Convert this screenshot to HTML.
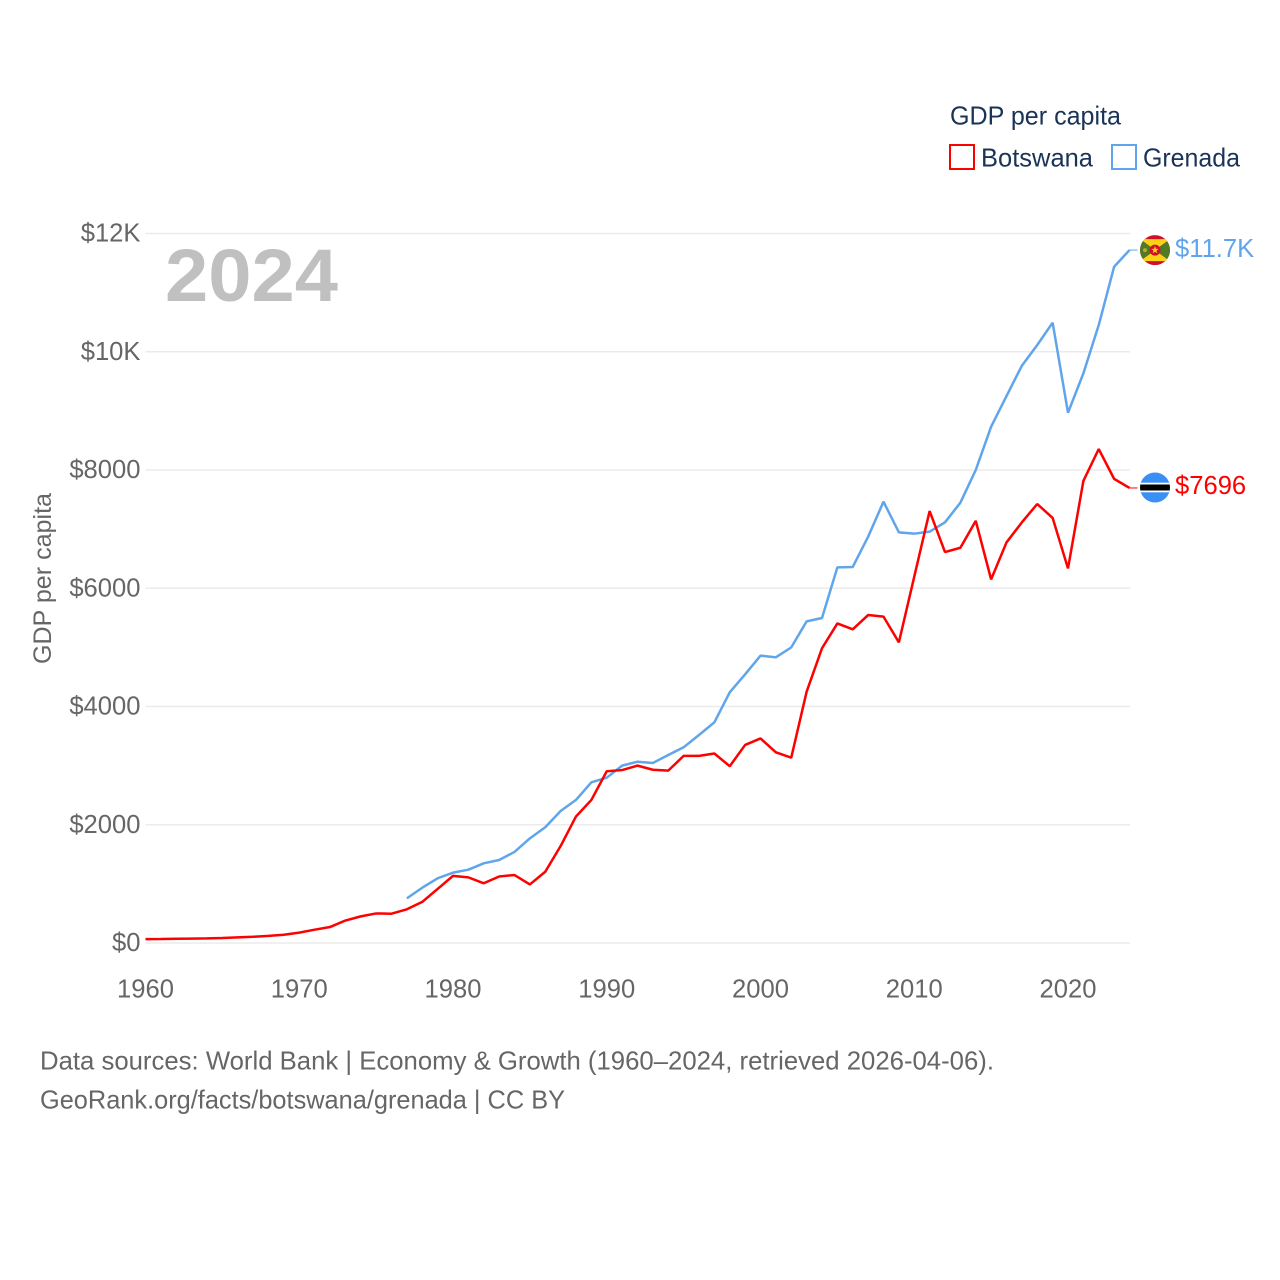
<!DOCTYPE html>
<html lang="en">
<head>
<meta charset="utf-8">
<title>GDP per capita: Botswana and Grenada</title>
<style>
html,body{margin:0;padding:0;background:#fff}
svg{display:block}
text{font-family:"Liberation Sans",sans-serif}
</style>
</head>
<body>
<svg id="chart" xmlns="http://www.w3.org/2000/svg" width="1280" height="1280" viewBox="0 0 1280 1280">
  <rect x="0" y="0" width="1280" height="1280" fill="#ffffff"/>
  <g id="grid"></g>
  <g id="yaxis"></g>
  <g id="xaxis"></g>
  <text transform="translate(51,578.5) rotate(-90)" text-anchor="middle" font-size="25" fill="#666666" textLength="171" lengthAdjust="spacingAndGlyphs">GDP per capita</text>
  <text x="165" y="301" font-size="74" font-weight="700" fill="#c0c0c0" textLength="173" lengthAdjust="spacingAndGlyphs">2024</text>
  <g id="series"></g>

  <g>
    <text x="950" y="124.5" font-size="25.6" fill="#1a3357" textLength="171" lengthAdjust="spacingAndGlyphs">GDP per capita</text>
    <g>
      <rect x="950" y="145" width="24" height="24" fill="#ffffff" stroke="#ff0000" stroke-width="2"/>
      <text x="981" y="166.5" font-size="25.6" fill="#1a3357" textLength="112" lengthAdjust="spacingAndGlyphs">Botswana</text>
    </g>
    <g>
      <rect x="1112" y="145" width="24" height="24" fill="#ffffff" stroke="#60a5ec" stroke-width="2"/>
      <text x="1143" y="166.5" font-size="25.6" fill="#1a3357" textLength="97" lengthAdjust="spacingAndGlyphs">Grenada</text>
    </g>
  </g>

  <defs>
    <clipPath id="clip-flag"><circle cx="0" cy="0" r="15"/></clipPath>
  </defs>
  <g id="flag-grenada" clip-path="url(#clip-flag)">
    <rect x="-15" y="-15" width="30" height="30" fill="#ce1126"/>
    <polygon points="-15,-11 15,-11 0,0" fill="#fcd116"/>
    <polygon points="-15,11 15,11 0,0" fill="#fcd116"/>
    <polygon points="-15,-11 0,0 -15,11" fill="#4f7a28"/>
    <polygon points="15,-11 0,0 15,11" fill="#4f7a28"/>
    <circle cx="0" cy="0" r="5.5" fill="#ce1126"/>
    <polygon points="0,-4 1,-1.2 3.8,-1.2 1.5,0.5 2.4,3.2 0,1.6 -2.4,3.2 -1.5,0.5 -3.8,-1.2 -1,-1.2" fill="#fcd116"/>
    <circle cx="-10" cy="0" r="2" fill="#c9a227"/>
  </g>
  <g id="flag-botswana" clip-path="url(#clip-flag)">
    <rect x="-15" y="-15" width="30" height="30" fill="#3a8ff5"/>
    <rect x="-15" y="-4.8" width="30" height="9.6" fill="#ffffff"/>
    <rect x="-15" y="-3" width="30" height="6" fill="#000000"/>
  </g>
  <g id="endlabels"></g>

  <g>
    <text x="40" y="1069.5" font-size="25.6" fill="#666666" textLength="954" lengthAdjust="spacingAndGlyphs">Data sources: World Bank | Economy &amp; Growth (1960–2024, retrieved 2026-04-06).</text>
    <text x="40" y="1108.5" font-size="25.6" fill="#666666" textLength="525" lengthAdjust="spacingAndGlyphs">GeoRank.org/facts/botswana/grenada | CC BY</text>
  </g>
</svg>
<script>
const years = [1960,1961,1962,1963,1964,1965,1966,1967,1968,1969,1970,1971,1972,1973,1974,1975,1976,1977,1978,1979,1980,1981,1982,1983,1984,1985,1986,1987,1988,1989,1990,1991,1992,1993,1994,1995,1996,1997,1998,1999,2000,2001,2002,2003,2004,2005,2006,2007,2008,2009,2010,2011,2012,2013,2014,2015,2016,2017,2018,2019,2020,2021,2022,2023,2024];
const botswanaValues = [65,68,72,75,78,85,95,105,120,140,175,225,270,380,450,500,495,570,695,915,1135,1110,1010,1125,1150,990,1205,1640,2140,2420,2905,2925,3000,2930,2915,3165,3165,3205,2990,3350,3460,3225,3135,4250,4985,5405,5305,5547,5520,5085,6195,7305,6612,6685,7140,6150,6775,7115,7425,7190,6335,7815,8355,7850,7696];
const grenadaValues = [null,null,null,null,null,null,null,null,null,null,null,null,null,null,null,null,null,755,935,1095,1190,1240,1348,1404,1540,1770,1957,2232,2420,2718,2796,3000,3066,3045,3180,3310,3518,3733,4240,4545,4860,4832,5000,5440,5497,6354,6360,6872,7464,6946,6923,6957,7115,7447,8000,8732,9251,9764,10114,10492,8969,9635,10452,11438,11720];
const yTicks = [0,2000,4000,6000,8000,10000,12000];
const yTickLabels = ["$0","$2000","$4000","$6000","$8000","$10K","$12K"];
const xTicks = [1960,1970,1980,1990,2000,2010,2020];
const botswanaEndLabel = "$7696";
const grenadaEndLabel = "$11.7K";

const NS = "http://www.w3.org/2000/svg";
const plot = {left:145.5, right:1129.5, top:233.5, bottom:943};
const xMin = 1960, xMax = 2024, yMin = 0, yMax = 12000;
function xScale(v){ return plot.left + (v - xMin) / (xMax - xMin) * (plot.right - plot.left); }
function yScale(v){ return plot.bottom - (v - yMin) / (yMax - yMin) * (plot.bottom - plot.top); }
function make(tag, parent, attrs){
  const el = document.createElementNS(NS, tag);
  for (const k in attrs) el.setAttribute(k, attrs[k]);
  parent.appendChild(el);
  return el;
}
const gridGroup = document.getElementById("grid");
const yGroup = document.getElementById("yaxis");
const xGroup = document.getElementById("xaxis");
const seriesGroup = document.getElementById("series");
const endGroup = document.getElementById("endlabels");

yTicks.forEach(function(t, i){
  const line = make("line", gridGroup, {x1:plot.left, x2:plot.right + 0.5, y1:yScale(t), y2:yScale(t), stroke:"#ebebeb", "stroke-width":1.5});
  
  
  const label = make("text", yGroup, {x:140.5, y:yScale(t) + 8, "text-anchor":"end", "font-size":25.6, fill:"#666666"});
  label.textContent = yTickLabels[i];
  
  
});
xTicks.forEach(function(t){
  const label = make("text", xGroup, {x:xScale(t), y:997.5, "text-anchor":"middle", "font-size":25.6, fill:"#666666"});
  label.textContent = String(t);
  
  
});
function linePath(values){
  let d = "", pen = false;
  values.forEach(function(v, i){
    if (v === null) { pen = false; return; }
    d += (pen ? "L" : "M") + xScale(years[i]).toFixed(2) + " " + yScale(v).toFixed(2);
    pen = true;
  });
  return d;
}
const grenadaLine = make("path", seriesGroup, {d:linePath(grenadaValues), fill:"none", stroke:"#60a5ec", "stroke-width":2.5, "stroke-linejoin":"bevel"});


const botswanaLine = make("path", seriesGroup, {d:linePath(botswanaValues), fill:"none", stroke:"#ff0000", "stroke-width":2.5, "stroke-linejoin":"bevel"});



const lastB = botswanaValues[botswanaValues.length - 1];
const lastG = grenadaValues[grenadaValues.length - 1];
const leaderB = make("line", endGroup, {x1:plot.right, x2:plot.right + 8, y1:yScale(lastB), y2:yScale(lastB), stroke:"#ff0000", "stroke-width":1});


const leaderG = make("line", endGroup, {x1:plot.right, x2:plot.right + 8, y1:yScale(lastG), y2:yScale(lastG), stroke:"#60a5ec", "stroke-width":1});


const labelB = make("text", endGroup, {x:1175, y:yScale(lastB) + 6, "font-size":25.6, fill:"#ff0000"});
labelB.textContent = botswanaEndLabel;


const labelG = make("text", endGroup, {x:1175, y:yScale(lastG) + 7, "font-size":25.6, fill:"#60a5ec"});
labelG.textContent = grenadaEndLabel;


document.getElementById("flag-botswana").setAttribute("transform", "translate(1155," + (yScale(lastB) - 0.5).toFixed(1) + ")");
document.getElementById("flag-grenada").setAttribute("transform", "translate(1155," + yScale(lastG).toFixed(1) + ")");
</script>
</body>
</html>
